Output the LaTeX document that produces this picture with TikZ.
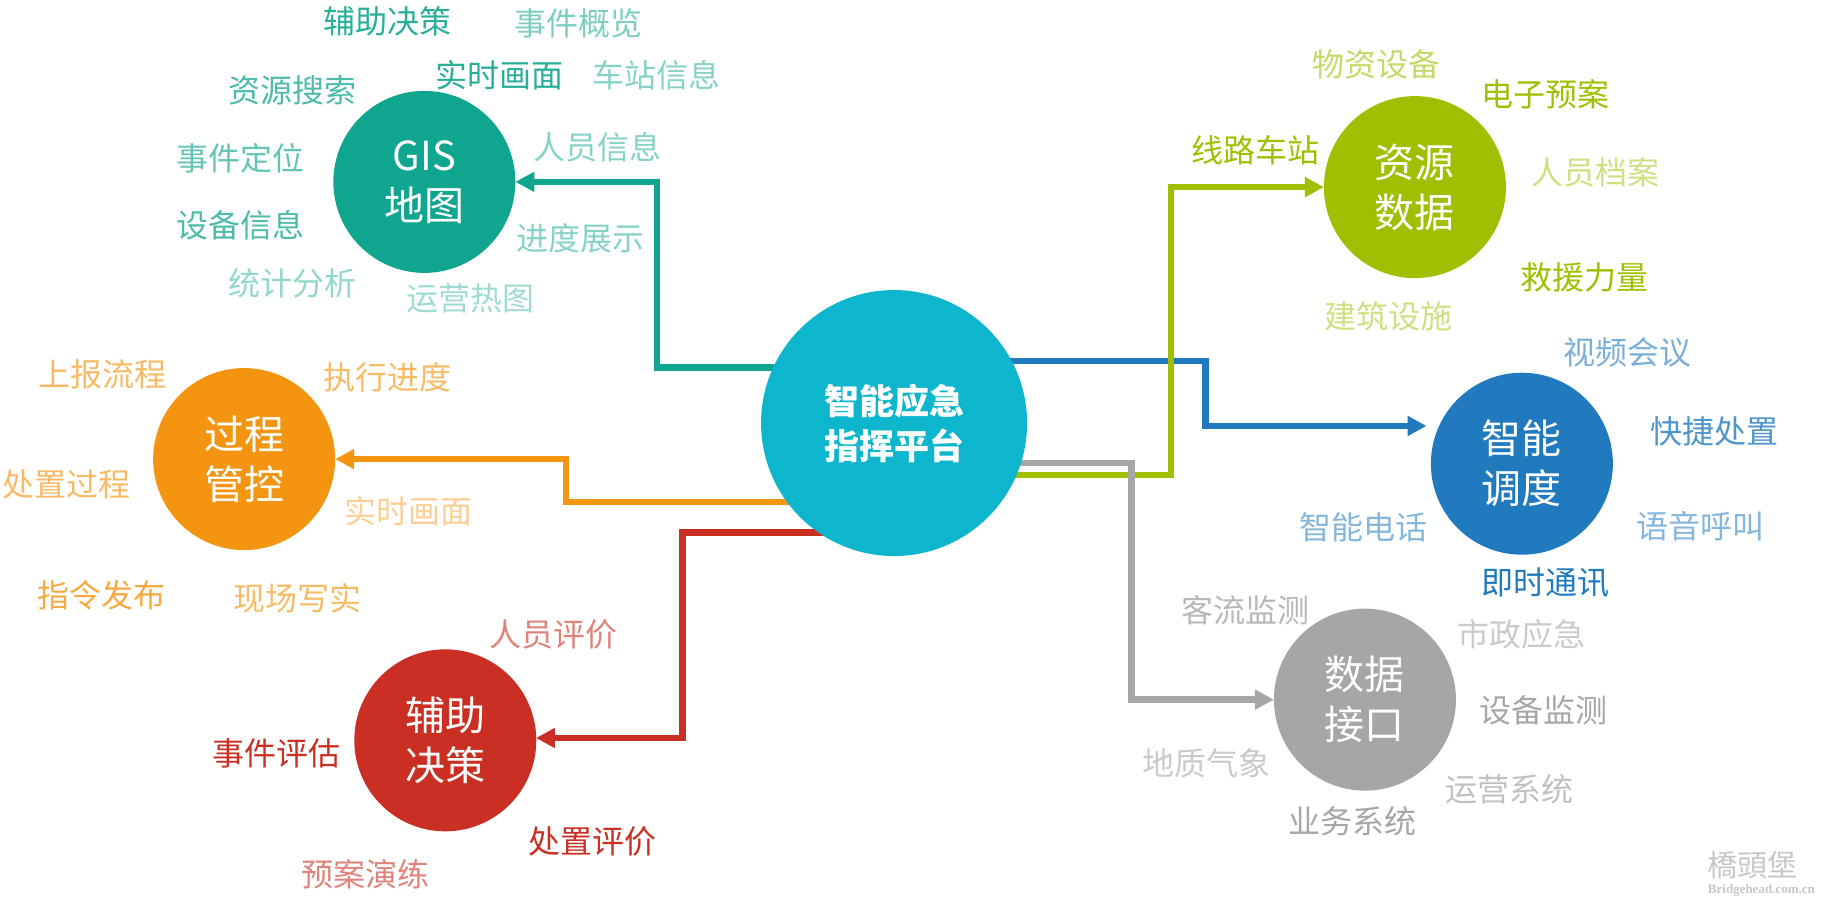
\documentclass[tikz,border=0pt]{standalone}
\usepackage{fontspec}
\setmainfont{Noto Sans CJK SC}
\newfontfamily\tcfont{Noto Sans CJK TC}
\newfontfamily\wmfont{Liberation Serif}
\usetikzlibrary{arrows.meta,calc}
\pgfdeclarelayer{bg}
\pgfsetlayers{bg,main}
\definecolor{cteal}{HTML}{10A58E}
\definecolor{corange}{HTML}{F49512}
\definecolor{cred}{HTML}{C93023}
\definecolor{cgreen}{HTML}{A0BF02}
\definecolor{cblue}{HTML}{217ABD}
\definecolor{cgray}{HTML}{A6A6A6}
\definecolor{chub}{HTML}{0DB6CC}
\tikzset{
  x=1.16263pt,y=-1.1622pt,
  lbl/.style={inner sep=0pt,outer sep=0pt,font=\fontsize{32}{36}\selectfont,text height=27pt,text depth=5pt,anchor=center},
  topic/.style={circle,inner sep=0pt,outer sep=0pt,minimum size=182pt,text=white,align=center,font=\fontsize{40}{50}\selectfont},
  hubnode/.style={circle,inner sep=0pt,outer sep=0pt,minimum size=266pt,fill=chub,text=white,align=center,font=\bfseries\fontsize{35}{45}\selectfont},
  conn/.style={line width=6.5pt,line join=miter,-{Triangle[length=19pt,width=19pt]}},
}
\begin{document}
\begin{tikzpicture}
\useasboundingbox (0,0) rectangle (1568,777);
\node[hubnode] (hub) at (769,364) {智能应急\\指挥平台};
\node[topic,fill=cteal] (gis) at (365,156.5) {GIS\\地图};
\node[topic,fill=corange] (proc) at (210,395) {过程\\管控};
\node[topic,fill=cgreen] (res) at (1217,161) {资源\\数据};
\node[topic,fill=cblue] (disp) at (1309,399) {智能\\调度};
\node[topic,fill=cgray] (data) at (1174,602) {数据\\接口};
\node[topic,fill=cred] (aid) at (383,637) {辅助\\决策};
\coordinate (bluetip) at (1227,366.5);
\coordinate (redtip) at (461,635);
\begin{pgfonlayer}{bg}
\draw[conn,cblue] (hub |- 0,310.5) -- (1037,310.5) |- (bluetip);
\draw[conn,cgreen] (hub |- 0,408.5) -- (1007,408.5) |- (res.west);
\draw[conn,cgray] (hub |- 0,398.5) -- (973,398.5) |- (data.west);
\draw[conn,cteal] (hub |- 0,316) -- (565,316) |- (gis.east);
\draw[conn,corange] (hub |- 0,432) -- (487,432) |- (proc.east);
\draw[conn,cred] (hub |- 0,458) -- (587,458) |- (redtip);
\end{pgfonlayer}
% GIS
\node[lbl,text=cteal!90] (g1) at (333,19) {辅助决策};
\node[lbl,text=cteal!55] (g2) at (498,21) {事件概览};
\node[lbl,text=cteal!90] (g3) at (430,66) {实时画面};
\node[lbl,text=cteal!50] (g4) at (565,66) {车站信息};
\node[lbl,text=cteal!75] (g5) at (252,79) {资源搜索};
\node[lbl,text=cteal!65] (g6) at (207,137) {事件定位};
\node[lbl,text=cteal!50] (g7) at (514,128) {人员信息};
\node[lbl,text=cteal!75] (g8) at (207,195) {设备信息};
\node[lbl,text=cteal!50] (g9) at (499,206) {进度展示};
\node[lbl,text=cteal!45] (g10) at (252,245) {统计分析};
\node[lbl,text=cteal!40] (g11) at (405,258) {运营热图};
% process
\node[lbl,text=corange!65] (p1) at (88,323) {上报流程};
\node[lbl,text=corange!65] (p2) at (333,326) {执行进度};
\node[lbl,text=corange!65] (p3) at (57,418) {处置过程};
\node[lbl,text=corange!45] (p4) at (351,441) {实时画面};
\node[lbl,text=corange!80] (p5) at (87,513) {指令发布};
\node[lbl,text=corange!65] (p6) at (256,516) {现场写实};
% aid
\node[lbl,text=cred!60] (a1) at (476,547) {人员评价};
\node[lbl,text=cred] (a2) at (238,649) {事件评估};
\node[lbl,text=cred] (a3) at (510,725) {处置评价};
\node[lbl,text=cred!60] (a4) at (314,753) {预案演练};
% resources
\node[lbl,text=cgreen!60] (r1) at (1184,56) {物资设备};
\node[lbl,text=cgreen] (r2) at (1329,82) {电子预案};
\node[lbl,text=cgreen] (r3) at (1080,130) {线路车站};
\node[lbl,text=cgreen!50] (r4) at (1372,149) {人员档案};
\node[lbl,text=cgreen] (r5) at (1363,240) {救援力量};
\node[lbl,text=cgreen!50] (r6) at (1194,273) {建筑设施};
% dispatch
\node[lbl,text=cblue!60] (d1) at (1400,304) {视频会议};
\node[lbl,text=cblue!80] (d2) at (1475,372) {快捷处置};
\node[lbl,text=cblue!55] (d3) at (1463,454) {语音呼叫};
\node[lbl,text=cblue!55] (d4) at (1173,455) {智能电话};
\node[lbl,text=cblue] (d5) at (1329,502) {即时通讯};
% data
\node[lbl,text=cgray!80] (s1) at (1071,526) {客流监测};
\node[lbl,text=cgray!60] (s2) at (1309,547) {市政应急};
\node[lbl,text=cgray] (s3) at (1328,612) {设备监测};
\node[lbl,text=cgray!60] (s4) at (1038,658) {地质气象};
\node[lbl,text=cgray!70] (s5) at (1298,680) {运营系统};
\node[lbl,text=cgray] (s6) at (1163,708) {业务系统};
% watermark
\node[inner sep=0pt,text=black!22,font=\tcfont\fontsize{30}{32}\selectfont] (w1) at (1507,744) {橋頭堡};
\node[inner sep=0pt,text=black!22,font=\wmfont\bfseries\fontsize{13}{14}\selectfont] (w2) at (1515,766) {Bridgehead.com.cn};
\end{tikzpicture}
\end{document}
